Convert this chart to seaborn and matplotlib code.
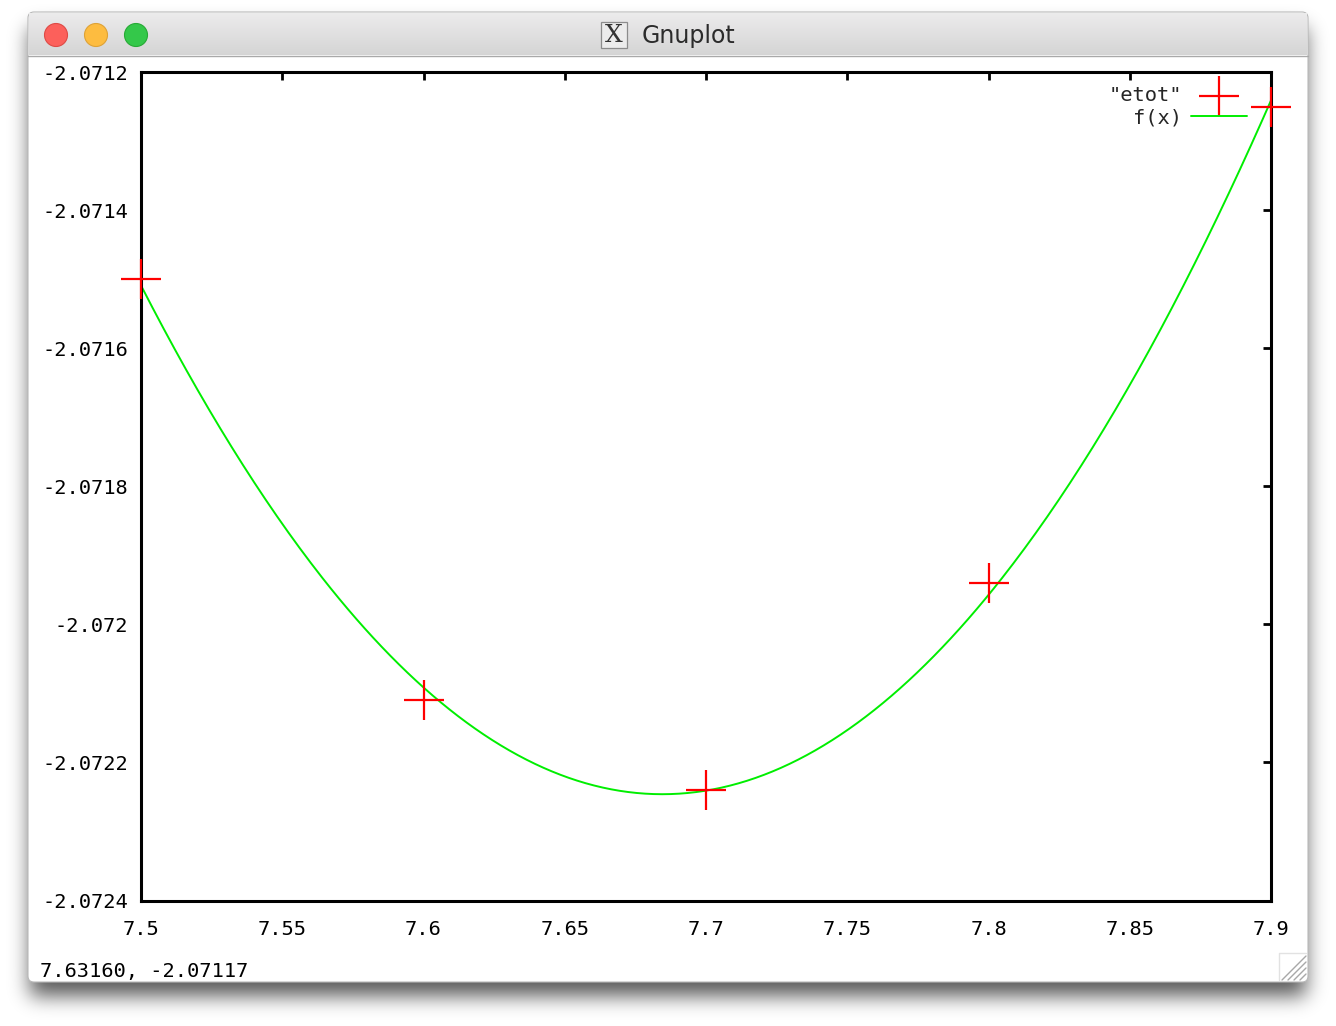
import numpy as np
import matplotlib
matplotlib.use("Agg")
import matplotlib.pyplot as plt
import seaborn as sns
from matplotlib.patches import Rectangle, FancyBboxPatch, Circle

# values
bohr = [7.5, 7.6, 7.7, 7.8, 7.9]
etot = [-2.07150, -2.07211, -2.07224, -2.07194, -2.07125]

x_ticks = [7.5, 7.55, 7.6, 7.65, 7.7, 7.75, 7.8, 7.85, 7.9]
x_labels = ["7.5", "7.55", "7.6", "7.65", "7.7", "7.75", "7.8", "7.85", "7.9"]
y_ticks = [-2.0712, -2.0714, -2.0716, -2.0718, -2.072, -2.0722, -2.0724]
y_labels = ["-2.0712", "-2.0714", "-2.0716", "-2.0718", "-2.072", "-2.0722", "-2.0724"]
window_title = "Gnuplot"
status_text = "7.63160, -2.07117"

# f(x) is the quadratic fit gnuplot drew through the points
coef = np.polyfit(bohr, etot, 2)
x_fit = np.linspace(bohr[0], bohr[-1], 400)
y_fit = np.polyval(coef, x_fit)

sns.set_style("white")
plt.rcParams['font.family'] = ['DejaVu Sans Mono', 'DejaVu Sans']
plt.rcParams['axes.unicode_minus'] = False

W, H = 1336, 1026
fig = plt.figure(figsize=(W / 100, H / 100), dpi=100)
fig.patch.set_facecolor("white")

# window chrome, drawn in pixel coordinates
bg = fig.add_axes([0, 0, 1, 1])
bg.axis("off")

wx0, wy0, wx1, wy1 = 28, 12, 1308, 982


def blur(a, sigma):
    r = int(3 * sigma)
    k = np.exp(-0.5 * (np.arange(-r, r + 1) / sigma) ** 2)
    k /= k.sum()
    a = np.apply_along_axis(lambda v: np.convolve(v, k, mode="same"), 0, a)
    a = np.apply_along_axis(lambda v: np.convolve(v, k, mode="same"), 1, a)
    return a


mask = np.zeros((H, W))
mask[wy0 + 16:wy1 + 14, wx0 + 2:wx1 - 2] = 1.0
sh = blur(mask, 10)
shadow = np.zeros((H, W, 4))
shadow[..., 3] = 0.65 * sh
bg.imshow(shadow, extent=(0, W, H, 0), aspect="auto", zorder=0)

bg.add_patch(FancyBboxPatch((wx0, wy0), wx1 - wx0, wy1 - wy0,
                            boxstyle="round,pad=0,rounding_size=6",
                            fc="white", ec="#b9b9b9", lw=0.8, zorder=1))

grad = np.linspace(0, 1, 42)[:, None, None]
top_c = np.array([0.925, 0.922, 0.925])
bot_c = np.array([0.835, 0.835, 0.835])
bar = top_c * (1 - grad) + bot_c * grad
bg.imshow(bar, extent=(wx0 + 1, wx1 - 1, 55, 13.5), aspect="auto", zorder=2)
bg.plot([wx0, wx1], [55.5, 55.5], color="#a9a9a9", lw=1, zorder=3)

for cx, fc, ec in [(56, "#fc605b", "#de4a45"), (96, "#fdbc40", "#dea236"),
                   (136, "#34c84a", "#27aa35")]:
    bg.add_patch(Circle((cx, 35), 11.5, fc=fc, ec=ec, lw=0.8, zorder=4))

bg.add_patch(Rectangle((601, 22), 26, 26, fc="#ececec", ec="#8c8c8c", lw=0.9, zorder=4))
bg.text(614, 36, "X", ha="center", va="center", fontsize=18,
        family="DejaVu Serif", color="#333333", zorder=5)
bg.text(642, 36, window_title, ha="left", va="center", fontsize=17,
        family="DejaVu Sans", color="#2b2b2b", zorder=5)

bg.text(40, 971, status_text, ha="left", va="center", fontsize=14.7,
        family="DejaVu Sans Mono", color="black", zorder=5)

# resize grip
bg.plot([1279, 1279, 1306], [980, 953, 953], color="#e2e2e2", lw=1, zorder=4)
for d in [6, 12, 18, 24]:
    bg.plot([1306 - d, 1306], [980, 980 - d], color="#a8a8a8", lw=1, zorder=4)

bg.set_xlim(0, W)
bg.set_ylim(H, 0)

# plot area
ax = fig.add_axes([141 / W, 1 - 900.5 / H, (1271 - 141) / W, (900.5 - 72) / H])
ax.set_facecolor("white")

sns.scatterplot(x=bohr, y=etot, marker="+", s=870, color="#ff0000",
                linewidth=1.6, label='"etot"', ax=ax, zorder=3)
sns.lineplot(x=x_fit, y=y_fit, color="#00ee00", lw=1.4, label="f(x)",
             ax=ax, zorder=2, errorbar=None)
ax.collections[0].set_clip_on(False)

ax.set_xlim(7.5, 7.9)
ax.set_ylim(-2.0724, -2.0712)
ax.set_xticks(x_ticks, x_labels)
ax.set_yticks(y_ticks, y_labels)
ax.set_xlabel("")
ax.set_ylabel("")

for s in ax.spines.values():
    s.set_visible(True)
    s.set_color("black")
    s.set_linewidth(2.2)
ax.tick_params(direction="in", length=6, width=2, top=True, right=True,
               labelsize=14.7, colors="black")
ax.tick_params(axis="x", pad=14)
ax.tick_params(axis="y", pad=9.5)

handles, labels = ax.get_legend_handles_labels()
ax.legend(handles, labels, loc="upper right", bbox_to_anchor=(0.9788, 0.9830),
          borderaxespad=0, borderpad=0, frameon=False, markerfirst=False,
          handlelength=2.75, handletextpad=0.45, labelspacing=0.15,
          prop={"family": "DejaVu Sans Mono", "size": 14.7})

fig.savefig("out.png", dpi=100)
